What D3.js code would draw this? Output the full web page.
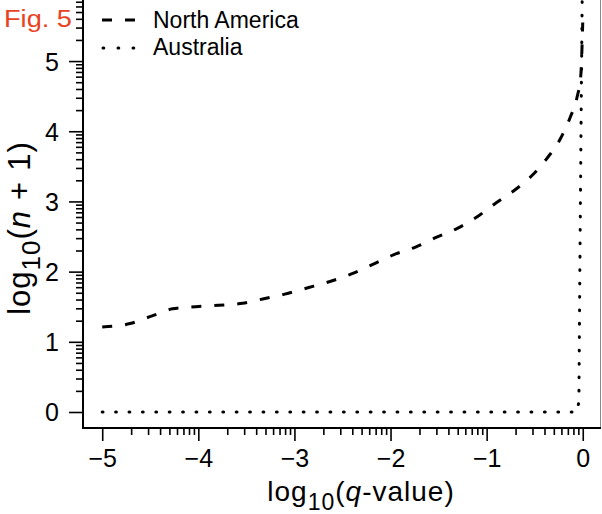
<!DOCTYPE html>
<html>
<head>
<meta charset="utf-8">
<script src="https://cdn.jsdelivr.net/npm/d3@7"></script>
<style>
  html, body { margin: 0; padding: 0; background: #fff; }
  svg { display: block; font-family: "Liberation Sans", Arial, sans-serif; }
</style>
</head>
<body>
<svg id="fig5"></svg>
<script>
// data (log10 q-value vs log10(n + 1))
var na_x = [-5, -4.71, -4.48, -4.27, -4.03, -3.79, -3.54, -3.33, -3.1, -2.86, -2.63, -2.4,
            -2.19, -1.97, -1.74, -1.52, -1.3, -1.09, -0.9, -0.71, -0.52, -0.38, -0.23,
            -0.13, -0.06, -0.02, -0.01, 0];
var na_y = [1.21, 1.26, 1.37, 1.47, 1.5, 1.52, 1.55, 1.61, 1.68, 1.77, 1.86, 1.97,
            2.1, 2.24, 2.35, 2.49, 2.62, 2.79, 2.98, 3.16, 3.38, 3.6, 3.9,
            4.2, 4.48, 4.8, 5.1, 5.55];
var au_x = [-5, -0.06, -0.04, -0.03, -0.015, -0.005];
var au_y = [0, 0, 0.15, 2.0, 4.5, 6.0];

var series_names = ['North America', 'Australia'];
var x_ticks = [-5, -4, -3, -2, -1, 0];
var y_ticks = [0, 1, 2, 3, 4, 5];
var x_tick_labels = ['\u22125', '\u22124', '\u22123', '\u22122', '\u22121', '0'];
var y_tick_labels = ['0', '1', '2', '3', '4', '5'];

var fig = {
    width: 602,
    height: 514,
    m_left: 83,
    m_right: 601,
    m_top: 0,
    m_bottom: 428
};

var svg = d3.select('#fig5')
    .attr('width', fig.width)
    .attr('height', fig.height);

var x = d3.scaleLinear().domain([-5.2, 0.19]).range([fig.m_left, fig.m_right]);
var y = d3.scaleLinear().domain([-0.228, 5.87]).range([fig.m_bottom, fig.m_top]);

// minor log ticks: n + log10(k)
var x_minor = [], y_minor = [];
for (var n = -5; n < 0; n++) {
    for (var k = 2; k <= 9; k++) x_minor.push(n + Math.log10(k));
}
for (var n = 0; n < 6; n++) {
    for (var k = 2; k <= 9; k++) {
        var v = n + Math.log10(k);
        if (v < 5.87) y_minor.push(v);
    }
}

// right border (thin grey)
svg.append('line')
    .attr('x1', fig.m_right - 0.5).attr('x2', fig.m_right - 0.5)
    .attr('y1', fig.m_top).attr('y2', fig.m_bottom)
    .attr('stroke', '#8a8a8a').attr('stroke-width', 1);

// x axis
var gx = svg.append('g').attr('transform', 'translate(0,' + fig.m_bottom + ')');
gx.append('g').call(d3.axisBottom(x).tickValues(x_minor).tickSize(7).tickFormat(''));
gx.append('g').call(d3.axisBottom(x).tickValues(x_ticks).tickSize(13).tickPadding(8)
    .tickFormat(function(d, i) { return x_tick_labels[i]; }));
// y axis
var gy = svg.append('g').attr('transform', 'translate(' + fig.m_left + ',0)');
gy.append('g').call(d3.axisLeft(y).tickValues(y_minor).tickSize(7).tickFormat(''));
gy.append('g').call(d3.axisLeft(y).tickValues(y_ticks).tickSize(14).tickPadding(10)
    .tickFormat(function(d, i) { return y_tick_labels[i]; }));

svg.selectAll('.domain').remove();
svg.selectAll('.tick line').attr('stroke', '#000').attr('stroke-width', 1.6);
svg.selectAll('.tick text')
    .attr('fill', '#000')
    .style('font-size', '25px')
    .style('font-family', '"Liberation Sans", Arial, sans-serif');
gx.selectAll('.tick text').attr('dy', '0.72em');
gy.selectAll('.tick text').attr('dy', '0.36em');

// frame: left and bottom
svg.append('path')
    .attr('d', 'M' + fig.m_left + ',' + fig.m_top + 'V' + fig.m_bottom + 'H' + fig.m_right)
    .attr('fill', 'none')
    .attr('stroke', '#000')
    .attr('stroke-width', 2);

var line = d3.line()
    .x(function(d) { return x(d[0]); })
    .y(function(d) { return y(d[1]); })
    .curve(d3.curveMonotoneX);

// North America, dashed
svg.append('path')
    .datum(d3.zip(na_x, na_y))
    .attr('d', line)
    .attr('fill', 'none')
    .attr('stroke', '#000')
    .attr('stroke-width', 3)
    .attr('stroke-dasharray', '10,13');

// Australia, dotted
svg.append('path')
    .datum(d3.zip(au_x, au_y))
    .attr('d', d3.line().x(function(d) { return x(d[0]); }).y(function(d) { return y(d[1]); }))
    .attr('fill', 'none')
    .attr('stroke', '#000')
    .attr('stroke-width', 3)
    .attr('stroke-linecap', 'round')
    .attr('stroke-dasharray', '0.8,12.6');

// legend
var leg = svg.append('g');
leg.append('line')
    .attr('x1', 102).attr('x2', 137).attr('y1', 20).attr('y2', 20)
    .attr('stroke', '#000').attr('stroke-width', 3)
    .attr('stroke-dasharray', '10,13');
leg.append('line')
    .attr('x1', 103).attr('x2', 134).attr('y1', 48).attr('y2', 48)
    .attr('stroke', '#000').attr('stroke-width', 3)
    .attr('stroke-linecap', 'round')
    .attr('stroke-dasharray', '0.8,14.2');
leg.selectAll('text.lg')
    .data(series_names)
    .enter().append('text')
    .attr('class', 'lg')
    .attr('x', 153)
    .attr('y', function(d, i) { return 28 + i * 27; })
    .style('font-size', '23px')
    .text(function(d) { return d; });

// figure tag
svg.append('text')
    .attr('x', 4).attr('y', 27)
    .attr('fill', '#e8431f')
    .attr('textLength', 68)
    .attr('lengthAdjust', 'spacingAndGlyphs')
    .style('font-size', '23px')
    .text('Fig. 5');

// x title
var xt = svg.append('text')
    .attr('x', 361).attr('y', 501)
    .attr('text-anchor', 'middle')
    .style('font-size', '28px')
    .style('letter-spacing', '1px');
xt.append('tspan').text('log');
xt.append('tspan').attr('dy', 9).style('font-size', '23px').text('10');
xt.append('tspan').attr('dy', -9).text('(');
xt.append('tspan').style('font-style', 'italic').text('q');
xt.append('tspan').text('-value)');

// y title
var yt = svg.append('text')
    .attr('transform', 'translate(30,228) rotate(-90)')
    .attr('text-anchor', 'middle')
    .style('font-size', '31px')
    .style('letter-spacing', '1px');
yt.append('tspan').text('log');
yt.append('tspan').attr('dy', 10).style('font-size', '26px').text('10');
yt.append('tspan').attr('dy', -10).text('(');
yt.append('tspan').style('font-style', 'italic').text('n');
yt.append('tspan').attr('dx', 10).text('+');
yt.append('tspan').attr('dx', 10).text('1)');
</script>
</body>
</html>
